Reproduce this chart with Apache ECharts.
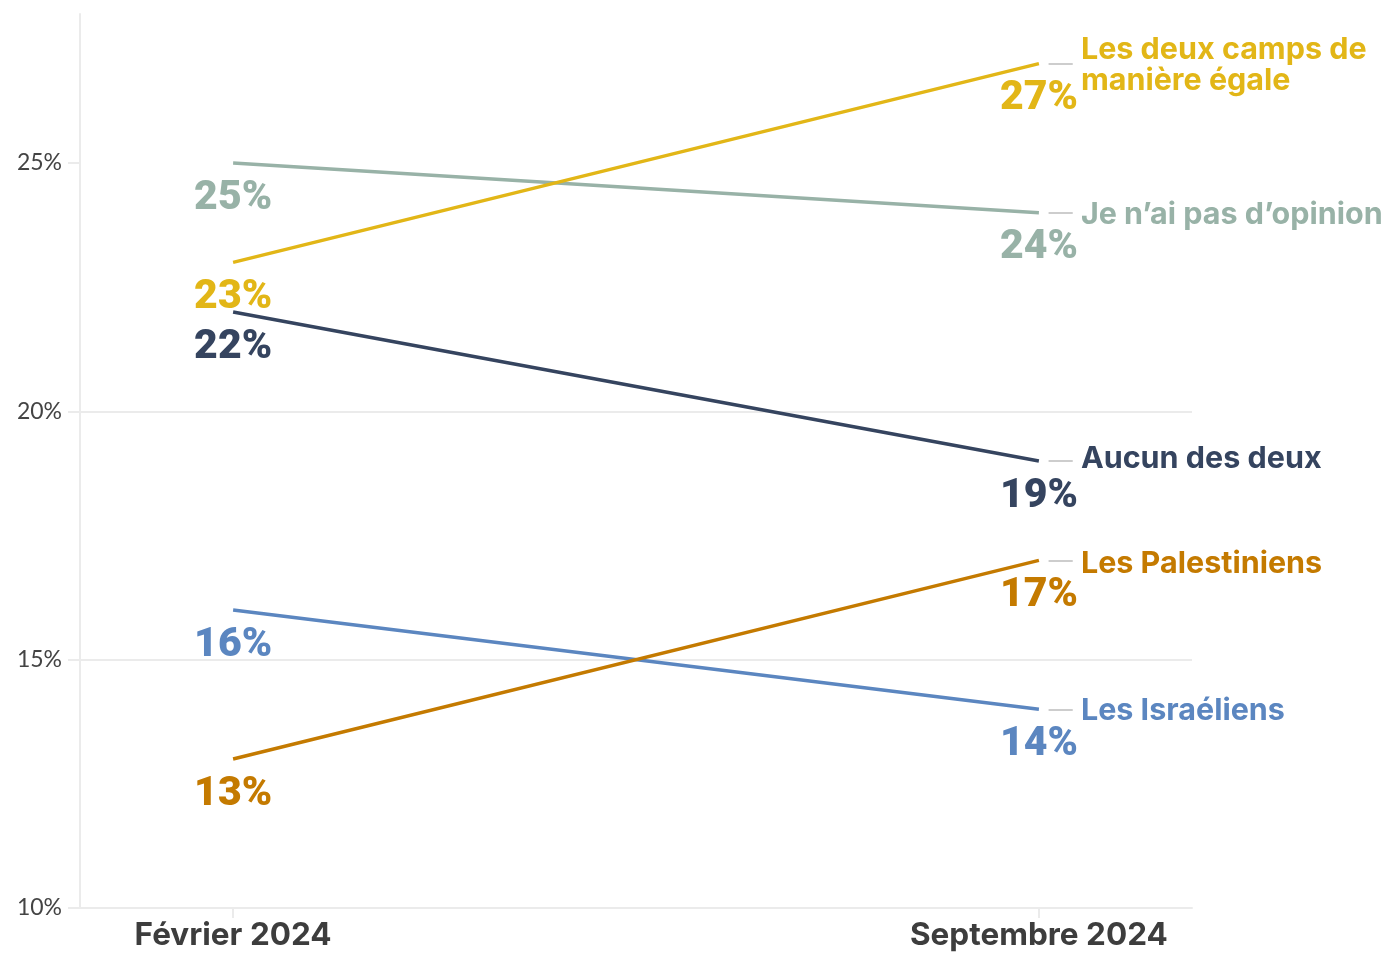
<!DOCTYPE html>
<html>
<head>
<meta charset="utf-8">
<script src="https://cdn.jsdelivr.net/npm/echarts@6/dist/echarts.min.js"></script>
<style>
    html, body { margin: 0; padding: 0; background: #fff; }
    #chart { width: 1392px; height: 953px; }
</style>
</head>
<body>
<div id="chart"></div>
<script>
// 数据
var periods = ['Février 2024', 'Septembre 2024'];
var periodPos = [0, 1];
var yTicks = [10, 15, 20, 25];

var seriesNames = [
    'Je n\u2019ai pas d\u2019opinion',
    'Aucun des deux',
    'Les Israéliens',
    'Les Palestiniens',
    'Les deux camps de\nmanière égale'
];
var opinionValues = [25, 24];
var aucunValues = [22, 19];
var israelValues = [16, 14];
var palestineValues = [13, 17];
var deuxCampsValues = [23, 27];

var seriesValues = [opinionValues, aucunValues, israelValues, palestineValues, deuxCampsValues];
var seriesColors = ['#98b2a7', '#35445f', '#5b86c0', '#c47a00', '#e2b617'];
var nameOffsets = [[0, 2], [0, -2], [0, 1], [0, 3], [0, 2]];

var boldFont = 'Inter, "Noto Sans", sans-serif';
var valueFont = 'Roboto, Inter, sans-serif';
var axisFont = 'Lato, "Noto Sans", sans-serif';
var gridGrey = '#ebebeb';

var myChart = echarts.init(document.getElementById('chart'));

// 构建系列
var series = seriesNames.map(function (name, i) {
    var vals = seriesValues[i];
    var last = vals[vals.length - 1];
    return {
        name: name,
        type: 'line',
        data: vals.map(function (v, j) { return [periodPos[j], v]; }),
        symbol: 'circle',
        symbolSize: 0,
        lineStyle: { color: seriesColors[i], width: 3.5 },
        itemStyle: { color: seriesColors[i] },
        label: {
            show: true,
            position: 'bottom',
            distance: 15,
            formatter: function (p) { return p.value[1] + '%'; },
            color: seriesColors[i],
            fontFamily: valueFont,
            fontWeight: 900,
            fontSize: 41,
            letterSpacing: 0.5,
            textBorderColor: '#fff',
            textBorderWidth: 4
        },
        endLabel: {
            show: true,
            formatter: name,
            distance: 42,
            offset: nameOffsets[i],
            color: seriesColors[i],
            fontFamily: boldFont,
            fontWeight: 'bold',
            fontSize: 30.5,
            lineHeight: 31
        },
        markLine: {
            silent: true,
            symbol: 'none',
            label: { show: false },
            lineStyle: { color: '#bdbdbd', width: 1.5, type: 'solid' },
            data: [[{ coord: [1.012, last] }, { coord: [1.042, last] }]]
        }
    };
});

var option = {
    animation: false,
    backgroundColor: '#fff',
    grid: { left: 80, right: 200, top: 14, bottom: 45 },
    xAxis: {
        type: 'value',
        min: -0.19,
        max: 1.19,
        splitLine: { show: false },
        axisLine: { show: true, onZero: false, lineStyle: { color: gridGrey, width: 2 } },
        axisTick: { show: true, length: 10, customValues: periodPos, lineStyle: { color: gridGrey, width: 2 } },
        axisLabel: {
            customValues: periodPos,
            margin: 12,
            formatter: function (v) { return periods[periodPos.indexOf(v)] || ''; },
            color: '#3d3d3d',
            fontFamily: boldFont,
            fontWeight: 'bold',
            fontSize: 31.5
        }
    },
    yAxis: {
        type: 'value',
        min: 10,
        max: 28,
        interval: 5,
        axisLine: { show: true, onZero: false, lineStyle: { color: gridGrey, width: 2 } },
        axisTick: { show: true, length: 12, customValues: yTicks, lineStyle: { color: gridGrey, width: 2 } },
        splitLine: { show: true, showMaxLine: false, lineStyle: { color: gridGrey, width: 2 } },
        axisLabel: {
            customValues: yTicks,
            margin: 18,
            formatter: '{value}%',
            color: '#444',
            fontFamily: axisFont,
            fontSize: 23
        }
    },
    series: series
};

myChart.setOption(option);
</script>
</body>
</html>
